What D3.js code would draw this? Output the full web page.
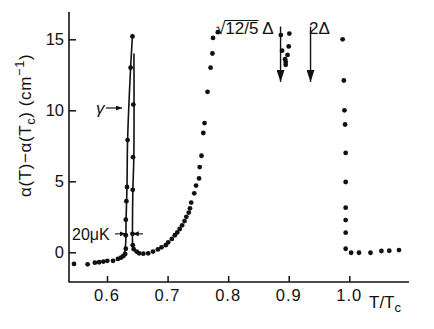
<!DOCTYPE html>
<html><head><meta charset="utf-8">
<script src="https://cdn.jsdelivr.net/npm/d3@7"></script>
<style>
body{margin:0;background:#fff;}
text{font-family:"Liberation Sans",Arial,sans-serif;fill:#111;}
</style></head>
<body><svg id="c" width="434" height="329"></svg>
<script>
// ---- data ----
const dotT = [0.5455,0.568,0.580,0.587,0.594,0.6005,0.610,0.618,0.623,0.627,0.630,
  0.631,0.631,0.631,0.632,0.633,0.634,0.639,0.642,
  0.6435,0.643,0.6425,0.642,0.6425,
  0.644,0.649,0.653,0.660,0.668,0.676,0.684,0.690,0.697,0.701,0.707,0.712,0.716,0.720,0.724,0.728,0.731,0.735,0.737,0.739,0.744,0.747,0.752,0.753,0.756,0.759,0.761,0.766,0.771,0.774,0.775,0.783,
  0.887,0.901,0.889,0.900,0.898,0.894,0.895,0.895,
  0.989,0.991,0.992,0.993,0.994,0.994,0.994,0.994,0.994,0.994,1.003,1.016,1.035,1.053,1.066,1.082];
const dotA = [-0.82,-0.85,-0.73,-0.70,-0.65,-0.60,-0.60,-0.47,-0.38,-0.26,-0.12,
  0.25,1.2,2.3,3.6,4.6,7.9,13.0,15.2,
  10.4,6.7,4.4,1.3,0.5,
  0.23,0.05,-0.07,-0.10,-0.07,0.05,0.2,0.35,0.5,0.7,0.94,1.2,1.4,1.64,1.9,2.2,2.5,2.8,3.1,3.5,4.15,4.7,5.2,6.0,6.8,8.4,9.1,11.3,13.0,14.0,15.1,15.5,
  15.3,15.4,14.2,14.5,13.9,13.6,13.4,13.2,
  15.0,12.1,10.0,9.0,7.0,4.95,3.14,2.27,1.38,0.25,-0.03,-0.03,-0.03,0.09,0.11,0.16];
const riseT = [0.619,0.626,0.6295,0.631,0.6315,0.633,0.634,0.639,0.642];
const riseA = [-0.45,-0.25,0.1,0.8,2.3,4.6,7.9,13.0,15.2];
const fallT = [0.6445,0.6443,0.6427,0.642,0.6423,0.6440,0.6475,0.652];
const fallA = [14.0,6.7,4.4,1.4,0.6,0.2,0.05,-0.05];
const xTicks = [0.6,0.7,0.8,0.9,1.0];
const xTickLabels = ["0.6","0.7","0.8","0.9","1.0"];
const yTicks = [0,5,10,15];
const arrowT = [0.8865,0.936];

// ---- layout ----
const svg = d3.select("#c");
const x = d3.scaleLinear().domain([0.6,1.0]).range([107,349.3]);
const y = d3.scaleLinear().domain([0,15]).range([252.3,39.3]);
const X0 = 69, X1 = 409, Y0 = 282, Y1 = 12;

// axes
svg.append("line").attr("x1",X0).attr("x2",X0).attr("y1",Y1).attr("y2",Y0+0.5).attr("stroke","#111").attr("stroke-width",1.6);
svg.append("line").attr("x1",X0).attr("x2",X1).attr("y1",Y0).attr("y2",Y0).attr("stroke","#111").attr("stroke-width",1.6);
const yAxis = d3.axisRight(y).tickValues(yTicks).tickSize(7).tickFormat("");
const gy = svg.append("g").attr("transform",`translate(${X0},0)`).call(yAxis);
gy.select(".domain").remove();
gy.selectAll("line").attr("stroke","#111").attr("stroke-width",1.5);
svg.selectAll(".ylab").data(yTicks).enter().append("text")
  .attr("x",64).attr("y",d=>y(d)+6).attr("text-anchor","end").attr("font-size",16.5).text(d=>d);
const xAxis = d3.axisTop(x).tickValues(xTicks).tickSize(6).tickFormat("");
const gx = svg.append("g").attr("transform",`translate(0,${Y0})`).call(xAxis);
gx.select(".domain").remove();
gx.selectAll("line").attr("stroke","#111").attr("stroke-width",1.5);
svg.selectAll(".xlab").data(xTicks).enter().append("text")
  .attr("x",d=>x(d)).attr("y",300.5).attr("text-anchor","middle").attr("font-size",16.5)
  .attr("letter-spacing",1).text((d,i)=>xTickLabels[i]);

// axis titles
const xt = svg.append("text").attr("x",369).attr("y",308).attr("font-size",17);
xt.append("tspan").text("T/T");
xt.append("tspan").attr("font-size",13).attr("dy",4).text("c");
const yt = svg.append("text").attr("transform","translate(31,197) rotate(-90)").attr("font-size",17).attr("letter-spacing",0.6);
yt.append("tspan").text("α(T)−α(T");
yt.append("tspan").attr("font-size",13).attr("dy",4).text("c");
yt.append("tspan").attr("dy",-4).text(")  (cm");
yt.append("tspan").attr("font-size",13).attr("dy",-7).text("−1");
yt.append("tspan").attr("dy",7).text(")");

// lines
svg.append("path").datum(riseT.map((t,i)=>[t,riseA[i]])).attr("d",d3.line().x(d=>x(d[0])).y(d=>y(d[1])).curve(d3.curveCatmullRom))
  .attr("fill","none").attr("stroke","#111").attr("stroke-width",1.6);
svg.append("path").datum(fallT.map((t,i)=>[t,fallA[i]])).attr("d",d3.line().x(d=>x(d[0])).y(d=>y(d[1])).curve(d3.curveCatmullRom))
  .attr("fill","none").attr("stroke","#111").attr("stroke-width",1.6);

// dots
svg.selectAll(".dot").data(dotT).enter().append("circle")
  .attr("cx",d=>x(d)).attr("cy",(d,i)=>y(dotA[i])).attr("r",2.4).attr("fill","#111");

// markers
const defs = svg.append("defs");
defs.append("marker").attr("id","ah").attr("viewBox","0 0 10 10").attr("refX",10).attr("refY",5)
  .attr("markerWidth",12).attr("markerHeight",8).attr("orient","auto").attr("markerUnits","userSpaceOnUse")
  .attr("preserveAspectRatio","none")
  .append("path").attr("d","M0,0 L10,5 L0,10 Z").attr("fill","#111");
defs.append("marker").attr("id","ahs").attr("viewBox","0 0 10 10").attr("refX",10).attr("refY",5)
  .attr("markerWidth",6).attr("markerHeight",5).attr("orient","auto").attr("markerUnits","userSpaceOnUse")
  .attr("preserveAspectRatio","none")
  .append("path").attr("d","M0,0 L10,5 L0,10 Z").attr("fill","#111");

// gap arrows
arrowT.forEach(t=>{
  svg.append("line").attr("x1",x(t)).attr("x2",x(t)).attr("y1",y(15.9)).attr("y2",y(12.0))
    .attr("stroke","#111").attr("stroke-width",1.4).attr("marker-end","url(#ah)");
});
// sqrt(12/5) Δ label
const sq = svg.append("text").attr("x",216).attr("y",34).attr("font-size",17);
sq.append("tspan").text("√");
const num = sq.append("tspan").text("12/5");
sq.append("tspan").text(" Δ");
{
  const n = num.node();
  const start = n.getStartPositionOfChar(0).x, end = n.getEndPositionOfChar(3).x;
  svg.append("line").attr("x1",start-1).attr("x2",end).attr("y1",20.5).attr("y2",20.5).attr("stroke","#111").attr("stroke-width",1.2);
}
svg.append("text").attr("x",309).attr("y",34).attr("font-size",17).text("2Δ");

// gamma label
svg.append("text").attr("x",96).attr("y",114).attr("font-size",17).attr("font-style","italic").text("γ");
svg.append("line").attr("x1",106).attr("x2",122).attr("y1",108).attr("y2",108).attr("stroke","#111").attr("stroke-width",1.2).attr("marker-end","url(#ahs)");

// 20 μK label
svg.append("text").attr("x",72).attr("y",240).attr("font-size",16).text("20μK");
const yl = y(1.3);
svg.append("line").attr("x1",115).attr("x2",x(0.631)).attr("y1",yl).attr("y2",yl).attr("stroke","#111").attr("stroke-width",1.1).attr("marker-end","url(#ahs)");
svg.append("line").attr("x1",143).attr("x2",x(0.6425)).attr("y1",yl).attr("y2",yl).attr("stroke","#111").attr("stroke-width",1.1).attr("marker-end","url(#ahs)");
</script></body></html>
